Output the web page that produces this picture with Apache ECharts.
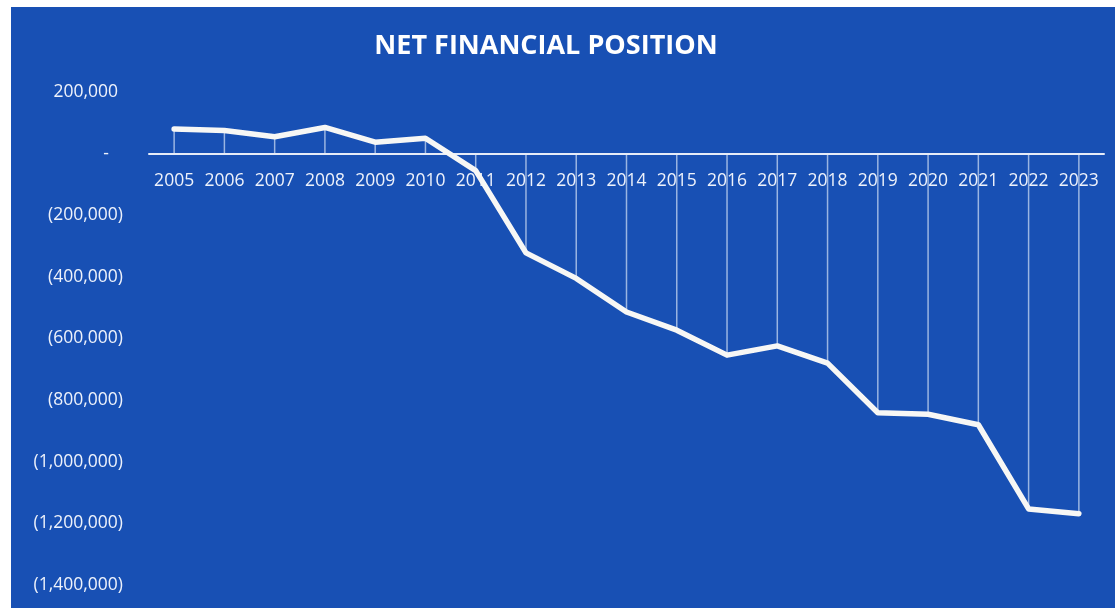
<!DOCTYPE html>
<html>
<head>
<meta charset="utf-8">
<title>Net Financial Position</title>
<script src="https://cdn.jsdelivr.net/npm/echarts@6/dist/echarts.min.js"></script>
<style>
  html, body { margin: 0; padding: 0; background: #ffffff; }
  #chart { position: absolute; left: 11px; top: 7px; width: 1104px; height: 601px; }
</style>
</head>
<body>
<div id="chart"></div>
<script>
// Net financial position by year
const years = ['2005','2006','2007','2008','2009','2010','2011','2012','2013','2014',
               '2015','2016','2017','2018','2019','2020','2021','2022','2023'];
const netPosition = [80000, 75000, 55000, 85000, 37000, 50000, -55000, -322000, -405000, -514000,
                     -573000, -654000, -624000, -680000, -841000, -846000, -880000, -1153000, -1169000];
const yTicks = { min: -1400000, max: 200000, interval: 200000 };

const chart = echarts.init(document.getElementById('chart'));

function accounting(v) {
  if (v === 0) return '{z|-}';
  const s = Math.abs(v).toLocaleString('en-US');
  return v < 0 ? '{n|(' + s + ')}' : '{p|' + s + '}';
}

const labelFont = { fontFamily: 'Open Sans', fontSize: 17.5, color: '#eef2fb' };

chart.setOption({
  backgroundColor: '#1850b4',
  title: {
    text: 'NET FINANCIAL POSITION',
    left: 530,
    textAlign: 'center',
    top: 21,
    textStyle: { color: '#ffffff', fontFamily: 'Open Sans', fontWeight: 'bold', fontSize: 27 }
  },
  grid: { left: 138, right: 11, top: 85, bottom: 23, containLabel: false, outerBoundsMode: 'none' },
  xAxis: {
    type: 'category',
    data: years,
    boundaryGap: true,
    axisLine: { onZero: false, lineStyle: { color: '#e6ecf8', width: 2 } },
    axisTick: { show: false },
    axisLabel: Object.assign({ margin: 18, interval: 0, hideOverlap: false }, labelFont),
    splitLine: { show: false },
    z: 1
  },
  yAxis: {
    type: 'value',
    min: yTicks.min,
    max: yTicks.max,
    interval: yTicks.interval,
    axisLine: { show: false },
    axisTick: { show: false },
    splitLine: { show: false },
    axisLabel: Object.assign({
      margin: 26,
      formatter: accounting,
      rich: {
        p: Object.assign({ padding: [0, 5, 0, 0] }, labelFont),
        n: Object.assign({}, labelFont),
        z: Object.assign({ padding: [0, 14, 0, 0] }, labelFont)
      }
    }, labelFont)
  },
  series: [
    {
      // drop lines from each point to the zero axis
      type: 'bar',
      data: netPosition,
      barWidth: 1.5,
      itemStyle: { color: 'rgba(225,235,250,0.65)' },
      silent: true,
      z: 0
    },
    {
      type: 'line',
      data: netPosition,
      symbol: 'none',
      lineStyle: { color: '#f7f7f5', width: 5.5, cap: 'round', join: 'round' },
      z: 3
    }
  ]
});

// Move the category axis (line and year labels) up onto the zero line.
const zeroY = chart.convertToPixel({ yAxisIndex: 0 }, 0);
const bottomY = chart.convertToPixel({ yAxisIndex: 0 }, yTicks.min);
chart.setOption({ xAxis: { offset: -(bottomY - zeroY) } });
</script>
</body>
</html>
